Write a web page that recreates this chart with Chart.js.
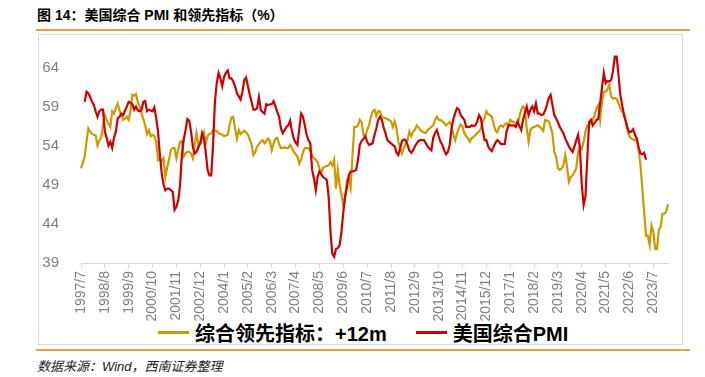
<!DOCTYPE html>
<html lang="zh-CN">
<head>
<meta charset="utf-8">
<script src="https://cdn.jsdelivr.net/npm/chart.js@4.4.1/dist/chart.umd.min.js"></script>
<style>
  html, body { margin: 0; padding: 0; background: #fff; }
  body {
    width: 705px; height: 377px; position: relative; overflow: hidden;
    font-family: "Liberation Sans", "Noto Sans CJK SC", sans-serif;
  }
  #title {
    position: absolute; left: 37px; top: 6px;
    font-size: 14px; font-weight: bold; color: #000;
    line-height: 18px; white-space: nowrap;
  }
  .rule { position: absolute; left: 36px; width: 654px; height: 2px; background: #DFA24C; }
  #frame {
    position: absolute; left: 38px; top: 34px; width: 645px; height: 311px;
    border: 1px solid #D9D9D9; box-sizing: border-box;
  }
  #legend {
    position: absolute; left: 158px; top: 319px; height: 26px;
    display: flex; align-items: center; white-space: nowrap;
    font-size: 20px; font-weight: bold; color: #000;
  }
  #legend .swatch { display: inline-block; width: 31px; height: 3px; margin-right: 6px; }
  #legend .item { display: flex; align-items: center; }
  #legend .item + .item { margin-left: 29px; }
  #source {
    position: absolute; left: 37px; top: 356px;
    font-size: 13px; font-style: italic; color: #222; white-space: nowrap;
  }
  #chart { position: absolute; left: 0; top: 0; }
</style>
</head>
<body>
<div id="title">图 14：美国综合 PMI 和领先指标（%）</div>
<div class="rule" style="top:29px"></div>
<div id="frame"></div>
<div id="legend"></div>
<div class="rule" style="top:349px"></div>
<div id="source">数据来源：Wind，西南证券整理</div>
<canvas id="chart" width="705" height="377"></canvas>

<script>
// Monthly categories: 1997/7 .. 2024/3
const startYear = 1997;
const startMonth = 7;
const monthCount = 321;
const months = [];
for (let i = 0; i < monthCount; i++) {
  const m = startMonth - 1 + i;
  months.push(`${startYear + Math.floor(m / 12)}/${(m % 12) + 1}`);
}

// Label every 13th month on the x axis
const labelStep = 13;

// Y axis tick values
const yTicks = [39, 44, 49, 54, 59, 64];

// 综合领先指标：+12m
const leadingIndex = [
  51.1, 51.8, 52.6, 54.5, 56.2, 55.8, 55.5, 55.4, 55.3, 54.0,
  54.7, 55.0, 56.6, 57.9, 57.3, 56.8, 56.4, 58.4, 58.1, 58.8,
  59.4, 58.5, 57.9, 57.3, 57.5, 57.7, 57.3, 58.5, 60.5, 60.4,
  60.6, 59.5, 59.0, 58.1, 57.4, 56.6, 55.5, 56.0, 55.2, 55.4,
  55.2, 54.5, 52.2, 52.4, 52.0, 52.4, 50.0, 51.2, 52.2, 53.5,
  53.7, 53.7, 52.4, 53.5, 54.5, 54.6, 52.6, 53.0, 53.2, 53.2,
  53.0, 52.4, 54.1, 55.6, 54.1, 54.3, 54.9, 55.7, 54.3, 55.2,
  55.5, 55.6, 56.0, 55.9, 55.9, 55.6, 55.5, 55.4, 55.2, 55.3,
  55.4, 56.6, 57.6, 57.7, 56.2, 54.9, 56.0, 55.5, 55.7, 55.9,
  55.7, 55.4, 54.8, 54.1, 52.8, 53.2, 53.9, 54.2, 54.5, 54.7,
  54.3, 54.6, 54.9, 54.6, 53.4, 54.3, 54.9, 55.0, 54.2, 53.7,
  53.7, 53.8, 53.7, 53.7, 54.1, 53.7, 53.2, 52.9, 52.6, 51.7,
  52.2, 53.2, 53.7, 53.7, 53.7, 53.3, 52.8, 52.4, 52.2, 51.9,
  51.1, 50.5, 51.2, 51.3, 51.4, 51.5, 51.9, 51.5, 52.2, 48.5,
  50.9, 49.0, 47.7, 46.4, 47.5, 49.6, 50.0, 48.7, 52.8, 56.4,
  56.4, 56.6, 57.3, 57.0, 55.4, 55.2, 56.0, 56.6, 57.6, 58.4,
  58.6, 57.8, 58.4, 58.4, 57.7, 57.6, 57.5, 57.4, 57.3, 57.1,
  56.4, 57.1, 56.2, 54.5, 53.7, 53.0, 53.7, 54.2, 54.7, 55.8,
  55.2, 55.8, 56.0, 56.6, 56.3, 56.0, 55.8, 55.7, 55.6, 56.0,
  56.2, 56.4, 56.6, 57.3, 57.7, 57.3, 57.3, 57.1, 56.9, 56.6,
  56.8, 57.0, 56.6, 55.4, 54.7, 55.6, 56.2, 56.7, 56.4, 55.6,
  55.2, 54.9, 54.5, 55.0, 55.1, 55.4, 55.6, 55.8, 56.2, 57.1,
  57.5, 58.4, 58.0, 57.9, 57.7, 56.7, 55.9, 55.7, 56.4, 56.6,
  56.4, 56.7, 56.9, 56.6, 57.3, 57.1, 57.0, 56.9, 56.7, 57.7,
  58.6, 59.0, 58.7, 56.2, 54.5, 56.0, 56.3, 56.4, 56.5, 56.6,
  56.4, 56.2, 55.9, 57.3, 57.2, 57.1, 56.4, 55.6, 53.2, 52.6,
  51.1, 50.9, 51.1, 51.5, 52.8, 51.3, 49.4, 50.0, 50.2, 50.6,
  51.1, 53.2, 53.9, 53.6, 54.5, 55.8, 56.6, 56.6, 56.9, 57.3,
  58.0, 58.8, 59.2, 57.3, 59.6, 60.9, 60.9, 61.2, 61.8, 60.3,
  60.0, 60.1, 60.0, 59.4, 58.8, 58.4, 58.1, 57.1, 55.8, 55.2,
  54.9, 54.8, 54.7, 54.7, 53.4, 51.5, 48.5, 45.5, 42.5, 42.5,
  41.3, 43.8, 43.0, 40.8, 40.8, 43.2, 43.6, 45.3, 45.3, 45.5,
  46.5
];

// 美国综合PMI
const compositePmi = [
  null, null, 59.6, 60.9, 60.7, 60.2, 59.6, 59.2, 58.4, 57.7,
  58.4, 58.6, 58.6, 55.8, 55.0, 54.0, 54.5, 53.7, 55.0, 55.8,
  57.5, 57.7, 58.1, 57.9, 58.5, 59.0, 59.6, 59.5, 59.3, 58.6,
  59.0, 58.5, 58.4, 58.6, 59.6, 59.7, 58.4, 58.6, 58.5, 58.4,
  58.9, 57.5, 55.8, 52.8, 50.5, 49.0, 48.3, 48.5, 48.5, 48.3,
  48.1, 45.8, 46.2, 47.0, 49.0, 52.8, 54.8, 56.0, 57.4, 57.2,
  55.8, 53.8, 53.0, 53.2, 53.8, 54.3, 55.6, 54.9, 53.2, 50.9,
  50.2, 50.2, 54.1, 59.6, 62.0, 63.3, 62.6, 61.6, 62.8, 63.3,
  63.6, 62.6, 62.6, 62.2, 61.6, 60.7, 60.3, 59.9, 60.9, 62.4,
  62.7, 61.6, 60.5, 59.6, 58.6, 58.6, 58.8, 60.2, 58.6, 58.3,
  58.1, 59.3, 59.2, 59.3, 59.3, 59.7, 59.0, 58.3, 57.7, 56.2,
  55.6, 56.0, 56.4, 56.6, 57.2, 55.8, 54.9, 54.4, 54.1, 56.2,
  58.1, 57.7, 56.6, 55.4, 54.7, 54.3, 50.9, 49.8, 48.3, 50.0,
  50.7, 50.3, 50.0, 49.8, 49.6, 47.5, 43.0, 40.2, 39.8, 40.8,
  40.9, 41.3, 43.0, 45.5, 47.5, 48.7, 50.2, 50.7, 50.7, 50.8,
  50.9, 52.2, 54.1, 54.6, 54.9, 55.2, 54.5, 54.1, 54.2, 54.3,
  55.4, 56.2, 57.3, 57.7, 57.3, 56.3, 55.6, 54.7, 54.5, 54.3,
  54.1, 53.9, 53.1, 52.8, 53.7, 54.6, 54.8, 54.7, 54.1, 53.4,
  53.1, 53.4, 53.9, 54.3, 54.6, 54.7, 54.7, 54.7, 54.3, 53.9,
  53.6, 53.4, 55.0, 55.6, 56.0, 55.2, 54.5, 54.1, 53.4, 52.9,
  53.2, 54.1, 56.2, 57.4, 58.2, 58.8, 58.6, 57.9, 57.6, 57.3,
  56.4, 56.4, 56.4, 56.6, 56.5, 56.6, 57.1, 57.9, 57.5, 56.0,
  54.7, 54.7, 53.9, 53.5, 53.3, 53.9, 54.4, 54.7, 54.5, 54.2,
  54.2, 54.2, 55.8, 56.6, 56.6, 56.6, 56.6, 56.4, 57.1, 56.5,
  56.0, 57.3, 58.2, 59.0, 57.9, 58.6, 59.0, 58.4, 59.4, 58.1,
  58.1, 57.9, 58.0, 58.5, 59.2, 60.1, 60.5, 59.2, 57.9, 57.5,
  57.0, 56.4, 56.0, 55.6, 54.9, 54.4, 53.9, 53.5, 53.2, 53.9,
  54.7, 55.4, 53.7, 49.0, 46.4, 47.5, 52.4, 57.0, 57.3, 56.6,
  56.9, 57.3, 57.4, 59.4, 61.4, 63.3, 62.0, 62.3, 62.2, 62.4,
  63.5, 65.4, 65.4, 63.1, 60.5, 59.2, 57.9, 57.1, 56.2, 55.7,
  55.8, 56.1, 55.4, 54.9, 53.8, 53.0, 52.9, 53.1, 52.2
];

const axisGray = '#D9D9D9';
const labelGray = '#7F7F7F';

const chart = new Chart(document.getElementById('chart'), {
  type: 'line',
  data: {
    labels: months,
    datasets: [
      {
        label: '综合领先指标：+12m',
        data: leadingIndex,
        borderColor: '#CC9900',
        backgroundColor: '#CC9900',
        borderWidth: 2.2,
        pointRadius: 0,
        tension: 0,
        order: 1
      },
      {
        label: '美国综合PMI',
        data: compositePmi,
        borderColor: '#CC0000',
        backgroundColor: '#CC0000',
        borderWidth: 2.2,
        pointRadius: 0,
        tension: 0,
        order: 0
      }
    ]
  },
  options: {
    responsive: false,
    animation: false,
    layout: { padding: { left: 0, right: 37, top: 44, bottom: 54 } },
    plugins: {
      tooltip: { enabled: false },
      legend: { display: false }
    },
    scales: {
      x: {
        offset: false,
        grid: {
          drawOnChartArea: false,
          drawTicks: true,
          tickLength: 5,
          color: (ctx) => (ctx.index % labelStep === 0 ? axisGray : 'rgba(0,0,0,0)')
        },
        border: { display: true, color: axisGray, width: 1 },
        ticks: {
          autoSkip: false,
          minRotation: 90,
          maxRotation: 90,
          padding: 3,
          color: labelGray,
          font: { family: 'Liberation Sans', size: 14 },
          callback: (value, index) => (index % labelStep === 0 ? months[index] : '')
        },
        afterFit: (scale) => { scale.height = 60; }
      },
      y: {
        min: 39,
        max: 67,
        grid: { display: false, drawTicks: false },
        border: { display: false },
        ticks: {
          padding: 22,
          color: labelGray,
          font: { family: 'Liberation Sans', size: 15 }
        },
        afterBuildTicks: (scale) => { scale.ticks = yTicks.map(v => ({ value: v })); },
        afterFit: (scale) => { scale.width = 81; }
      }
    }
  }
});

// Legend built from the chart's datasets
const legendBox = document.getElementById('legend');
chart.data.datasets.forEach((ds) => {
  const item = document.createElement('span');
  item.className = 'item';
  const swatch = document.createElement('span');
  swatch.className = 'swatch';
  swatch.style.background = ds.borderColor;
  const text = document.createElement('span');
  text.textContent = ds.label;
  item.appendChild(swatch);
  item.appendChild(text);
  legendBox.appendChild(item);
});
</script>
</body>
</html>
